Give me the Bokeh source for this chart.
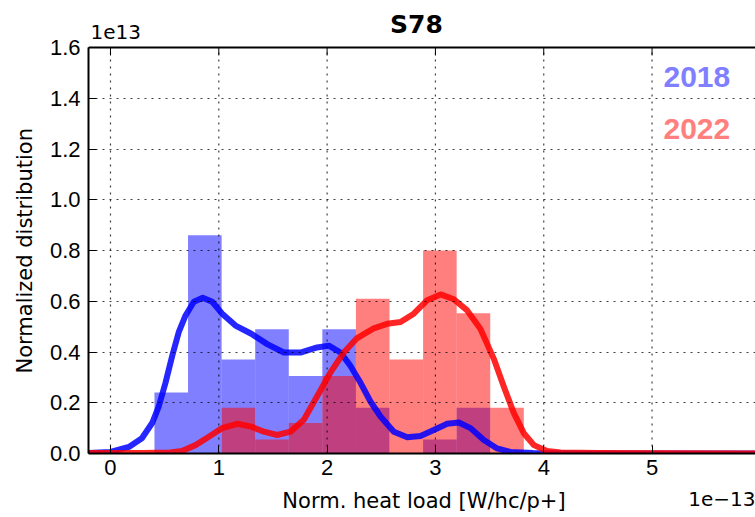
from bokeh.plotting import figure
from bokeh.layouts import column
from bokeh.models import Range1d, Label, FixedTicker, PrintfTickFormatter, Span, Title
from bokeh.embed import file_html
from bokeh.resources import INLINE

# ---- data (x in units of 1e-13 W/hc/p+, y in units of 1e13) ----
bin_edges = [0.406, 0.716, 1.026, 1.336, 1.646, 1.956, 2.266, 2.576, 2.886, 3.196, 3.506, 3.816]
hist_2018 = [0.24, 0.86, 0.37, 0.49, 0.305, 0.49, 0.18, 0.0, 0.055, 0.18]          # bins from 0.406
hist_2022 = [0.18, 0.055, 0.12, 0.305, 0.61, 0.37, 0.80, 0.553, 0.18]              # bins from 1.026

kde_2018_x = [-0.2, 0.0, 0.17, 0.29, 0.385, 0.446, 0.508, 0.57, 0.63, 0.693,
              0.77, 0.852, 0.939, 1.031, 1.154, 1.30, 1.447, 1.6, 1.754, 1.908,
              2.016, 2.124, 2.216, 2.30, 2.40, 2.493, 2.616, 2.74, 2.862, 2.985,
              3.109, 3.216, 3.324, 3.447, 3.57, 3.693, 3.9, 4.3, 5.0, 6.0]
kde_2018_y = [0.002, 0.006, 0.026, 0.06, 0.12, 0.186, 0.279, 0.385, 0.478, 0.544,
              0.598, 0.614, 0.598, 0.551, 0.504, 0.472, 0.431, 0.398, 0.398, 0.418,
              0.425, 0.398, 0.345, 0.285, 0.205, 0.146, 0.086, 0.064, 0.069, 0.093,
              0.117, 0.122, 0.1, 0.053, 0.02, 0.006, 0.002, 0.0, 0.0, 0.0]

kde_2022_x = [-0.2, 0.3, 0.55, 0.66, 0.785, 0.908, 1.03, 1.17, 1.30, 1.416,
              1.539, 1.662, 1.785, 1.908, 2.03, 2.154, 2.277, 2.43, 2.555, 2.678,
              2.80, 2.924, 3.047, 3.17, 3.293, 3.416, 3.54, 3.63, 3.724, 3.816,
              3.909, 4.03, 4.155, 4.5, 6.0]
kde_2022_y = [0.002, 0.002, 0.004, 0.01, 0.033, 0.066, 0.1, 0.117, 0.106, 0.086,
              0.073, 0.086, 0.133, 0.226, 0.319, 0.398, 0.455, 0.493, 0.511, 0.518,
              0.551, 0.604, 0.627, 0.608, 0.564, 0.491, 0.372, 0.265, 0.159, 0.08,
              0.033, 0.01, 0.004, 0.002, 0.0]

x_ticks = [0, 1, 2, 3, 4, 5, 6]
y_ticks = [0.0, 0.2, 0.4, 0.6, 0.8, 1.0, 1.2, 1.4, 1.6]
title_text = "S78"
series_names = ["2018", "2022"]
x_label = "Norm. heat load [W/hc/p+]"
y_label = "Normalized distribution"
y_offset_text = "1e13"
x_offset_text = "1e\u221213"

SANS = "Liberation Sans"
DEJAVU = "DejaVu Sans"

# ---- layout geometry (pixels) ----
W = 755
LEFT = 88                 # frame left edge
H_MAIN, H_FOOT = 487, 30
BOTTOM_BORDER = 34
FRAME_H = H_MAIN - BOTTOM_BORDER          # 453: y=0 sits at this pixel row
PX_PER_Y = 253.75                          # pixels per 1e13
X0, X1 = -0.203, 5.955
PX_PER_X = (W - LEFT) / (X1 - X0)
Y_TOP = y_ticks[-1]
Y_END = FRAME_H / PX_PER_Y                 # frame runs up to the page top


def dx(px):   # page pixel column -> x data
    return X0 + (px - LEFT) / PX_PER_X


def dy(py):   # page pixel row -> y data of the main plot
    return (FRAME_H - py) / PX_PER_Y


# ---- main plot ----
p = figure(width=W, height=H_MAIN, x_range=Range1d(X0, X1), y_range=Range1d(0, Y_END),
           output_backend="svg", toolbar_location=None, title_location=None,
           min_border_left=LEFT, min_border_right=0, min_border_top=0, min_border_bottom=BOTTOM_BORDER)
p.outline_line_color = None
p.background_fill_color = "white"
p.border_fill_color = "white"
p.xgrid.visible = False

n18 = len(hist_2018)
n22 = len(hist_2022)
p.quad(left=bin_edges[:n18], right=bin_edges[1:n18 + 1], bottom=0, top=hist_2018,
       fill_color="blue", fill_alpha=0.5, line_color=None)
p.quad(left=bin_edges[2:2 + n22], right=bin_edges[3:3 + n22], bottom=0, top=hist_2022,
       fill_color="red", fill_alpha=0.5, line_color=None)

# vertical dotted grid (over the bars, up to the top spine)
p.segment(x0=x_ticks, y0=[0] * len(x_ticks), x1=x_ticks, y1=[Y_TOP] * len(x_ticks),
          line_color="black", line_alpha=0.75, line_width=1.2, line_dash="2 5")

p.line(kde_2018_x, kde_2018_y, line_color="blue", line_width=6, line_alpha=0.85, line_join="round")
p.line(kde_2022_x, kde_2022_y, line_color="red", line_width=6, line_alpha=0.85, line_join="round")

for ax in (p.xaxis[0], p.yaxis[0]):
    ax.axis_line_width = 2
    ax.axis_line_color = "black"
    ax.major_tick_in = 8
    ax.major_tick_out = 0
    ax.major_tick_line_color = "black"
    ax.minor_tick_line_color = None
    ax.major_label_text_font = SANS
    ax.major_label_text_font_size = "22px"
    ax.major_label_text_color = "black"

p.xaxis.ticker = FixedTicker(ticks=x_ticks)
p.xaxis.formatter = PrintfTickFormatter(format="%d")
p.xaxis.major_label_standoff = 6

p.yaxis.ticker = FixedTicker(ticks=y_ticks)
p.yaxis.formatter = PrintfTickFormatter(format="%.1f")
p.yaxis.bounds = (0, Y_TOP)
p.yaxis.major_label_standoff = 8

# y axis label as a left-side title, placed along the 0..1.6 span like the reference
ylab = Title(text=y_label, align="left", offset=80, vertical_align="middle", standoff=17,
             text_font=DEJAVU, text_font_size="21px", text_font_style="normal", text_color="black")
p.add_layout(ylab, "left")

# horizontal dotted grid
p.ygrid.ticker = FixedTicker(ticks=y_ticks)
p.ygrid.grid_line_color = "black"
p.ygrid.grid_line_alpha = 0.75
p.ygrid.grid_line_width = 1.2
p.ygrid.grid_line_dash = "2 5"
p.ygrid.level = "overlay"

# top spine with inward ticks
p.add_layout(Span(location=Y_TOP, dimension="width", line_color="black", line_width=2))
tick_len = 8 / PX_PER_Y
p.segment(x0=x_ticks, y0=[Y_TOP] * len(x_ticks), x1=x_ticks, y1=[Y_TOP - tick_len] * len(x_ticks),
          line_color="black", line_width=1)

# texts inside the main canvas (rows corrected for the renderer's baseline shift)
p.add_layout(Label(x=dx(416), y=dy(24), text=title_text, text_font=DEJAVU, text_font_size="25px",
                   text_font_style="bold", text_align="center", text_baseline="alphabetic",
                   text_color="black"))
p.add_layout(Label(x=dx(90), y=dy(31.5), text=y_offset_text, text_font=DEJAVU, text_font_size="20px",
                   text_align="left", text_baseline="alphabetic", text_color="black"))
p.add_layout(Label(x=dx(663), y=dy(76.6), text=series_names[0], text_font=SANS, text_font_size="30px",
                   text_font_style="bold", text_align="left", text_baseline="alphabetic",
                   text_color="#7f7fff"))
p.add_layout(Label(x=dx(663), y=dy(128.3), text=series_names[1], text_font=SANS, text_font_size="30px",
                   text_font_style="bold", text_align="left", text_baseline="alphabetic",
                   text_color="#ff7f7f"))

# ---- footer: x axis label and x offset text (same x mapping, y in page pixels) ----
foot = figure(width=W, height=H_FOOT, x_range=p.x_range, y_range=Range1d(H_MAIN + H_FOOT, H_MAIN),
              output_backend="svg", toolbar_location=None, title_location=None,
              x_axis_type=None, y_axis_type=None,
              min_border_left=LEFT, min_border_right=0, min_border_top=0, min_border_bottom=0)
foot.outline_line_color = None
foot.xgrid.visible = False
foot.ygrid.visible = False
foot.background_fill_color = "white"
foot.border_fill_color = "white"
foot.add_layout(Label(x=dx(423.5), y=500.5, text=x_label, text_font=DEJAVU, text_font_size="21px",
                      text_align="center", text_baseline="alphabetic", text_color="black"))
foot.add_layout(Label(x=X1, y=498.5, text=x_offset_text, text_font=DEJAVU, text_font_size="20px",
                      text_align="right", text_baseline="alphabetic", text_color="black"))

layout = column(p, foot, spacing=0)
open("out.html", "w").write(file_html(layout, INLINE))
